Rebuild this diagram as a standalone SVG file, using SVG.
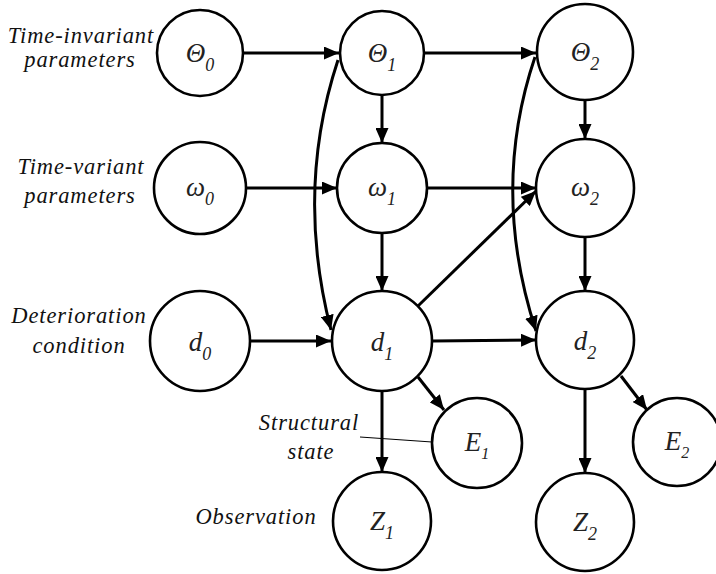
<svg xmlns="http://www.w3.org/2000/svg" width="716" height="574" viewBox="0 0 716 574">
<style>
.node circle{fill:#fff;stroke:#000;stroke-width:2.6}
.edge{fill:none;stroke:#000;stroke-width:3;marker-end:url(#ah)}
.lab{font-family:'Liberation Serif','Times New Roman',serif;font-style:italic;font-size:22.5px;letter-spacing:0.9px;text-anchor:middle;fill:#111}
.nl{font-family:'Liberation Serif','Times New Roman',serif;font-style:italic;font-size:27px;text-anchor:middle;fill:#222}
.sub{font-size:18px}
</style>
<defs>
<marker id="ah" markerUnits="userSpaceOnUse" markerWidth="16" markerHeight="13" refX="15" refY="6.5" orient="auto">
<path d="M0,0 L15,6.5 L0,13 z" fill="#000"/>
</marker>
</defs>
<g id="labels">
<text class="lab" x="81" y="43">Time-invariant</text>
<text class="lab" x="80" y="67">parameters</text>
<text class="lab" x="81" y="174">Time-variant</text>
<text class="lab" x="80" y="203">parameters</text>
<text class="lab" x="79" y="323">Deterioration</text>
<text class="lab" x="79" y="353">condition</text>
<text class="lab" x="309" y="430">Structural</text>
<text class="lab" x="311" y="459">state</text>
<text class="lab" x="256" y="524">Observation</text>
<path d="M360,437 L432,442" stroke="#000" stroke-width="1" fill="none"/>
</g>
<g id="connectors">
<path class="edge" d="M242,53 L339,53"/>
<path class="edge" d="M424,53 L536,53"/>
<path class="edge" d="M382,95 L382,143"/>
<path class="edge" d="M585,100 L585,139"/>
<path class="edge" d="M246,188 L337,188"/>
<path class="edge" d="M427,188 L536,188"/>
<path class="edge" d="M382,233 L382,291"/>
<path class="edge" d="M585,237 L585,291"/>
<path class="edge" d="M250,341 L331,341"/>
<path class="edge" d="M432,341 L536,340"/>
<path class="edge" d="M418,306 L536,191"/>
<path class="edge" d="M418,377 L444,410"/>
<path class="edge" d="M382,391 L382,472"/>
<path class="edge" d="M621,376 L647,410"/>
<path class="edge" d="M585,389 L585,473"/>
<path class="edge" d="M338,60 Q295,190 331,330"/>
<path class="edge" d="M535,57 Q490,190 536,331"/>
</g>
<g id="theta0" class="node"><circle cx="200" cy="53" r="43"/><text class="nl" x="200" y="62">Θ<tspan class="sub" dy="9">0</tspan></text></g>
<g id="theta1" class="node"><circle cx="382" cy="53" r="42"/><text class="nl" x="382" y="62">Θ<tspan class="sub" dy="9">1</tspan></text></g>
<g id="theta2" class="node"><circle cx="585" cy="52" r="48"/><text class="nl" x="585" y="61">Θ<tspan class="sub" dy="9">2</tspan></text></g>
<g id="omega0" class="node"><circle cx="200" cy="188" r="46"/><text class="nl" x="200" y="196">ω<tspan class="sub" dy="9">0</tspan></text></g>
<g id="omega1" class="node"><circle cx="382" cy="188" r="45"/><text class="nl" x="382" y="196">ω<tspan class="sub" dy="9">1</tspan></text></g>
<g id="omega2" class="node"><circle cx="585" cy="188" r="49"/><text class="nl" x="585" y="196">ω<tspan class="sub" dy="9">2</tspan></text></g>
<g id="d0" class="node"><circle cx="200" cy="341" r="50"/><text class="nl" x="200" y="351">d<tspan class="sub" dy="9">0</tspan></text></g>
<g id="d1" class="node"><circle cx="382" cy="341" r="50"/><text class="nl" x="382" y="351">d<tspan class="sub" dy="9">1</tspan></text></g>
<g id="d2" class="node"><circle cx="585" cy="340" r="49"/><text class="nl" x="585" y="350">d<tspan class="sub" dy="9">2</tspan></text></g>
<g id="E1" class="node"><circle cx="477" cy="443" r="45"/><text class="nl" x="477" y="451" font-size="23">E<tspan font-size="16" dy="8">1</tspan></text></g>
<g id="E2" class="node"><circle cx="677" cy="442" r="44"/><text class="nl" x="677" y="450" font-size="23">E<tspan font-size="16" dy="8">2</tspan></text></g>
<g id="Z1" class="node"><circle cx="382" cy="521" r="49"/><text class="nl" x="382" y="530">Z<tspan class="sub" dy="9">1</tspan></text></g>
<g id="Z2" class="node"><circle cx="585" cy="522" r="49"/><text class="nl" x="585" y="531">Z<tspan class="sub" dy="9">2</tspan></text></g>
</svg>
